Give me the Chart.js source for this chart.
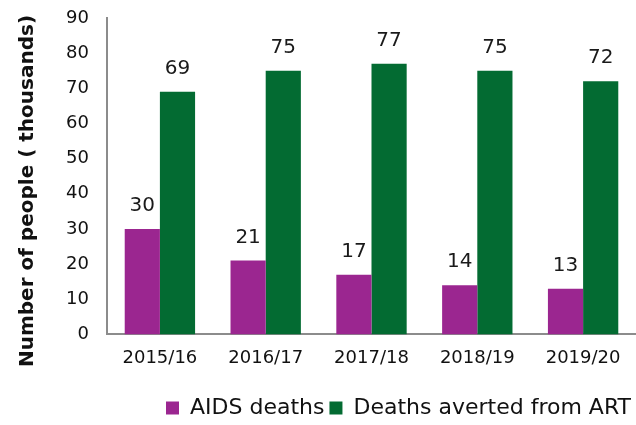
<!DOCTYPE html>
<html><head><meta charset="utf-8">
<script src="https://cdn.jsdelivr.net/npm/chart.js@4"></script>
<style>html,body{margin:0;padding:0;background:#fff}#wrap{width:636px;height:425px}</style>
</head><body><div id="wrap"><canvas id="c" width="636" height="425"></canvas></div>
<script>
const categories = ["2015/16","2016/17","2017/18","2018/19","2019/20"];
const aidsDeaths = [30,21,17,14,13];
const deathsAverted = [69,75,77,75,72];
const yTicks = [0,10,20,30,40,50,60,70,80,90];
const yTitle = "Number of people ( thousands)";
const FONT = "'DejaVu Sans', sans-serif";

const labelPlugin = {
  id: 'barLabels',
  afterDatasetsDraw(chart) {
    const ctx = chart.ctx;
    ctx.save();
    ctx.font = "20px " + FONT;
    ctx.fillStyle = "#1a1a1a";
    ctx.textAlign = "center";
    ctx.textBaseline = "alphabetic";
    chart.data.datasets.forEach((ds, i) => {
      chart.getDatasetMeta(i).data.forEach((bar, j) => {
        ctx.fillText(String(ds.data[j]), bar.x, bar.y - 18);
      });
    });
    // y axis title
    ctx.font = "bold 20px " + FONT;
    ctx.fillStyle = "#111";
    ctx.textBaseline = "middle";
    ctx.translate(28, 191);
    ctx.rotate(-Math.PI / 2);
    ctx.fillText(yTitle, 0, 0);
    ctx.restore();
  }
};

new Chart(document.getElementById('c'), {
  type: 'bar',
  data: {
    labels: categories,
    datasets: [
      {label: "AIDS deaths", data: aidsDeaths, backgroundColor: "#9B2690"},
      {label: "Deaths averted from ART", data: deathsAverted, backgroundColor: "#036B32"}
    ]
  },
  options: {
    responsive: false,
    animation: false,
    devicePixelRatio: 1,
    layout: {padding: {top: 0, right: 0, left: 0, bottom: -4}},
    datasets: {bar: {categoryPercentage: 0.665, barPercentage: 1}},
    plugins: {
      legend: {
        position: 'bottom', align: 'end',
        labels: {boxWidth: 13, boxHeight: 13, padding: 5, color: "#111", font: {family: FONT, size: 22}}
      },
      tooltip: {enabled: false}
    },
    scales: {
      x: {
        afterFit(scale) { scale.height += 10; },
        grid: {display: false, drawTicks: false},
        border: {color: "#8c8c8c", width: 2},
        ticks: {color: "#111", font: {family: FONT, size: 18}, padding: 13, maxRotation: 0}
      },
      y: {
        min: 0, max: 90,
        afterBuildTicks(scale) { scale.ticks = yTicks.map(v => ({value: v})); },
        afterFit(scale) { scale.width = 107; scale.paddingTop = 18; scale.paddingBottom = 0; },
        grid: {display: false, drawTicks: false},
        border: {color: "#8c8c8c", width: 2},
        ticks: {color: "#111", font: {family: FONT, size: 18}, padding: 18},
        title: {display: false}
      }
    }
  },
  plugins: [labelPlugin]
});
</script></body></html>
